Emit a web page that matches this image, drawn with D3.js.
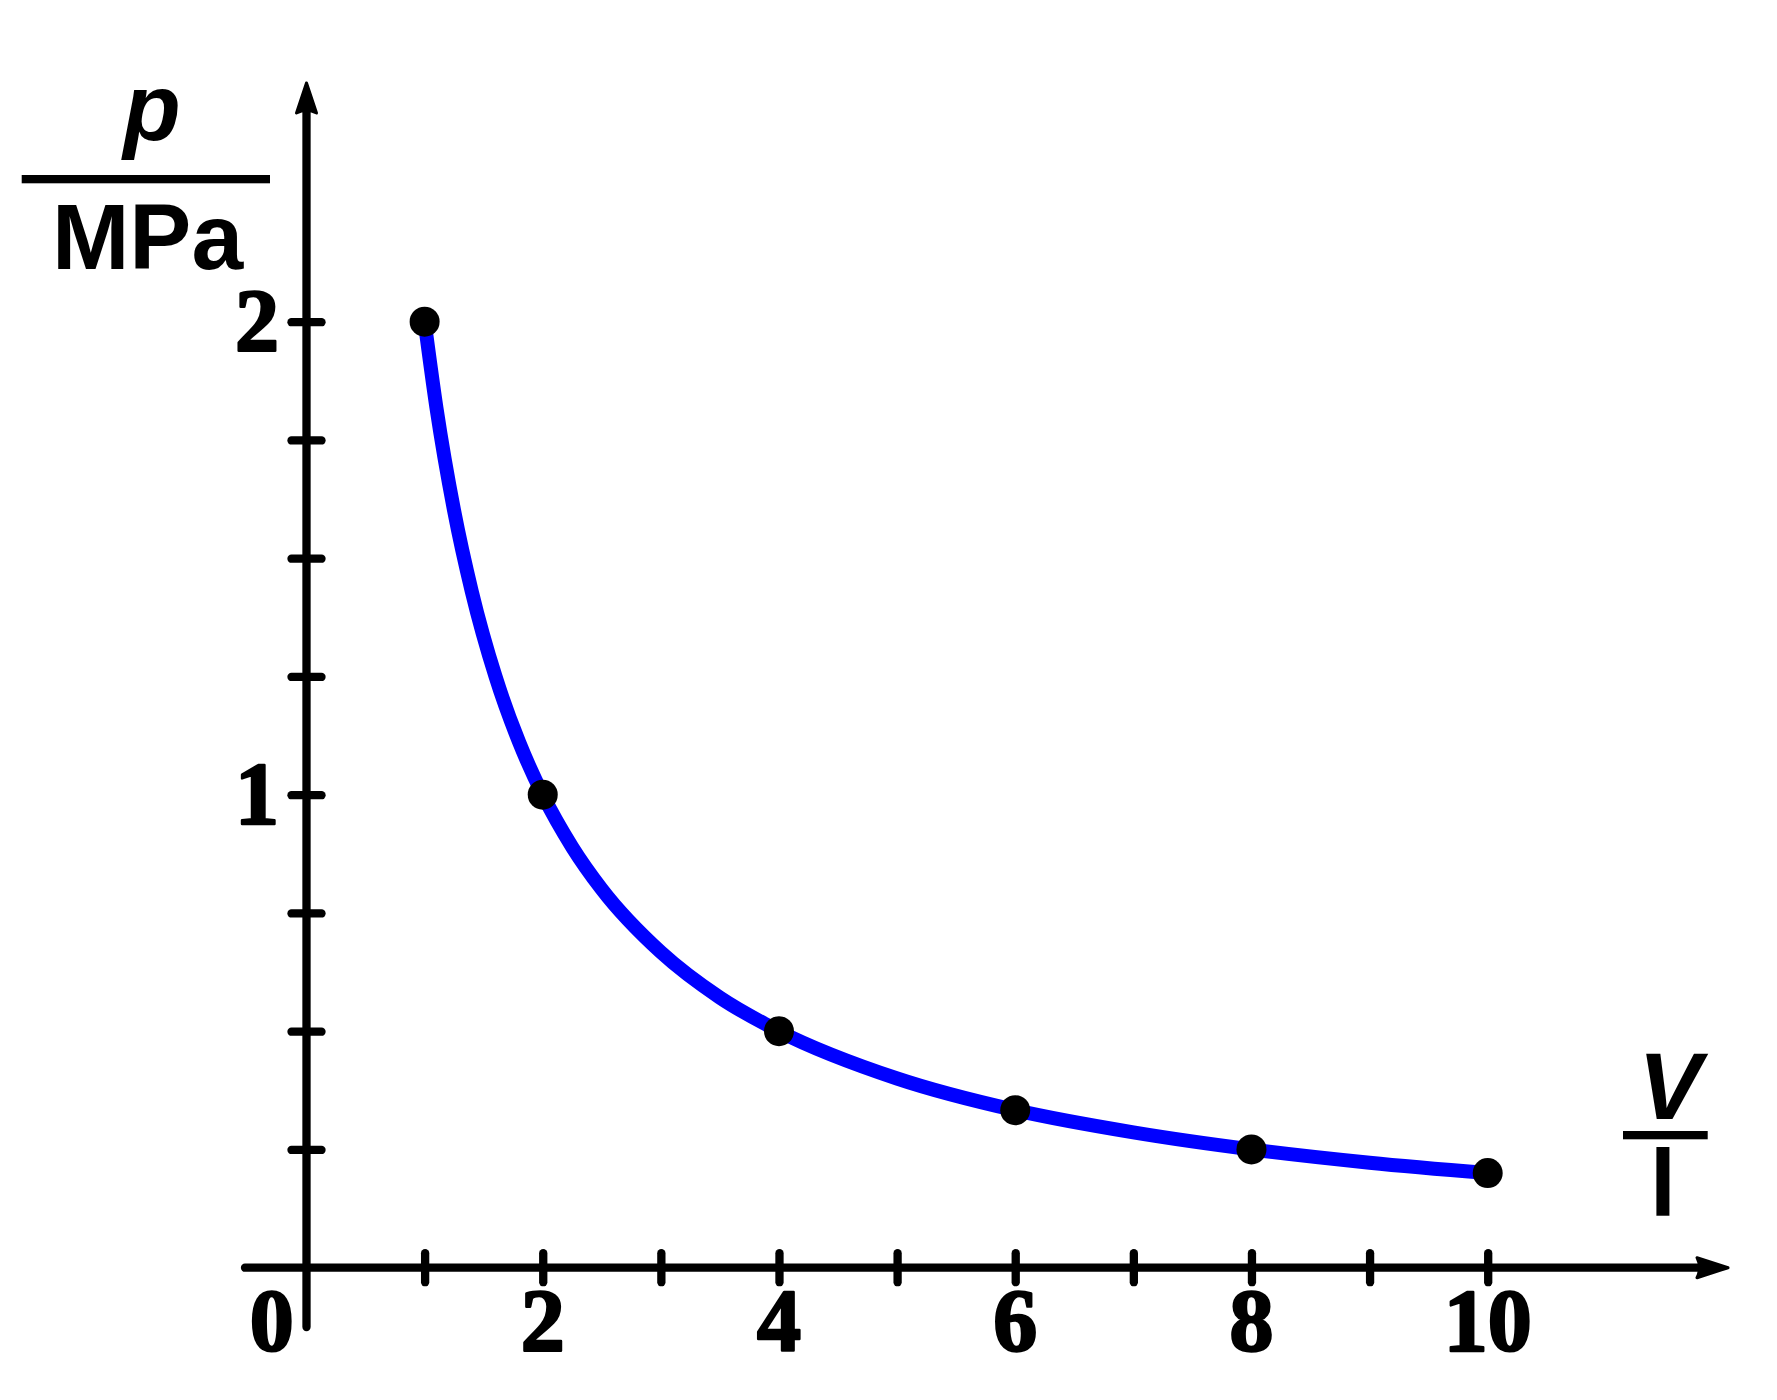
<!DOCTYPE html>
<html>
<head>
<meta charset="utf-8">
<script src="https://cdn.jsdelivr.net/npm/d3@7"></script>
<style>
  html, body { margin: 0; padding: 0; background: #fff; }
  svg { display: block; }
</style>
</head>
<body>
<svg id="chart" width="1777" height="1400"></svg>
<script>
// Data
const pointV = [1, 2, 4, 6, 8, 10];
const pointP = [2, 1, 0.5, 0.333, 0.25, 0.2];
const curveV = [1, 1.1, 1.25, 1.4, 1.6, 1.8, 2, 2.25, 2.5, 3, 3.5, 4, 5, 6, 7, 8, 9, 10];
const curveP = [2, 1.818, 1.6, 1.429, 1.25, 1.111, 1, 0.889, 0.8, 0.667, 0.571, 0.5, 0.4, 0.333, 0.286, 0.25, 0.222, 0.2];
const xTicks = [1, 2, 3, 4, 5, 6, 7, 8, 9, 10];
const xTickLabels = [2, 4, 6, 8, 10];
const yTicks = [0.25, 0.5, 0.75, 1, 1.25, 1.5, 1.75, 2];
const yTickLabels = [1, 2];

const svg = d3.select("#chart");
const x = d3.scaleLinear().domain([0, 10]).range([306.5, 1487.7]);
const y = d3.scaleLinear().domain([0, 2]).range([1267.7, 321.7]);

const digitFont = "'Liberation Serif', serif";
const sansFont = "'Liberation Sans', Arial, sans-serif";
const axisW = 8.3;

// Curve
const line = d3.line().x((d, i) => x(curveV[i])).y((d, i) => y(curveP[i])).curve(d3.curveMonotoneX);
svg.append("path")
  .datum(curveV)
  .attr("d", line)
  .attr("fill", "none")
  .attr("stroke", "#0000ff")
  .attr("stroke-width", 14)
  .attr("stroke-linejoin", "round");

// X axis
const xAxis = d3.axisBottom(x).tickValues(xTicks).tickSize(0).tickFormat("");
const gx = svg.append("g").attr("transform", `translate(0,${y(0)})`).call(xAxis);
gx.select(".domain").remove();
gx.selectAll(".tick line")
  .attr("y1", -14.5).attr("y2", 14.5)
  .attr("stroke", "#000").attr("stroke-width", axisW).attr("stroke-linecap", "round");

// Y axis
const yAxis = d3.axisLeft(y).tickValues(yTicks).tickSize(0).tickFormat("");
const gy = svg.append("g").attr("transform", `translate(${x(0)},0)`).call(yAxis);
gy.select(".domain").remove();
gy.selectAll(".tick line")
  .attr("x1", -15).attr("x2", 15)
  .attr("stroke", "#000").attr("stroke-width", axisW).attr("stroke-linecap", "round");

// Axis lines
svg.append("line")
  .attr("x1", 245).attr("x2", 1705).attr("y1", y(0)).attr("y2", y(0))
  .attr("stroke", "#000").attr("stroke-width", axisW).attr("stroke-linecap", "round");
svg.append("line")
  .attr("x1", x(0)).attr("x2", x(0)).attr("y1", 1327).attr("y2", 105)
  .attr("stroke", "#000").attr("stroke-width", axisW).attr("stroke-linecap", "round");

// Arrowheads
const ay = y(0);
svg.append("path")
  .attr("d", `M1728,${ay} L1697,${ay - 10} Q1702,${ay} 1697,${ay + 10} Z`)
  .attr("fill", "#000").attr("stroke", "#000").attr("stroke-width", 3).attr("stroke-linejoin", "round");
const ax = x(0);
svg.append("path")
  .attr("d", `M${ax},83 L${ax - 10},113 Q${ax},108 ${ax + 10},113 Z`)
  .attr("fill", "#000").attr("stroke", "#000").attr("stroke-width", 3).attr("stroke-linejoin", "round");

// Points
svg.append("g").selectAll("circle")
  .data(pointV)
  .join("circle")
  .attr("cx", (d) => x(d))
  .attr("cy", (d, i) => y(pointP[i]))
  .attr("r", 15)
  .attr("fill", "#000");

// Tick labels
function digitStyle(sel) {
  sel.attr("font-family", digitFont)
    .attr("font-weight", "bold")
    .attr("font-size", 88)
    .attr("fill", "#000")
    .attr("stroke", "#000")
    .attr("stroke-width", 2.5)
    .attr("stroke-linejoin", "round");
}

svg.append("g").selectAll("text")
  .data(xTickLabels)
  .join("text")
  .attr("x", (d) => x(d))
  .attr("y", 1350)
  .attr("text-anchor", "middle")
  .call(digitStyle)
  .text((d) => d);

svg.append("text")
  .attr("x", 271.7).attr("y", 1350)
  .attr("text-anchor", "middle")
  .call(digitStyle)
  .text("0");

svg.append("g").selectAll("text")
  .data(yTickLabels)
  .join("text")
  .attr("x", 279)
  .attr("y", (d) => y(d) + 28)
  .attr("text-anchor", "end")
  .call(digitStyle)
  .text((d) => d);

// Y axis label p / MPa
svg.append("text")
  .attr("x", 152).attr("y", 140)
  .attr("text-anchor", "middle")
  .attr("font-family", sansFont).attr("font-weight", "bold").attr("font-style", "italic").attr("font-size", 94)
  .text("p");
svg.append("rect")
  .attr("x", 21.7).attr("y", 175).attr("width", 248.3).attr("height", 8.3)
  .attr("fill", "#000");
svg.append("text")
  .attr("x", 147.5).attr("y", 269)
  .attr("text-anchor", "middle")
  .attr("font-family", sansFont).attr("font-weight", "bold").attr("font-size", 93)
  .text("MPa");

// X axis label V / l
svg.append("text")
  .attr("x", 1670).attr("y", 1119)
  .attr("text-anchor", "middle")
  .attr("font-family", sansFont).attr("font-weight", "bold").attr("font-style", "italic").attr("font-size", 95)
  .text("V");
svg.append("rect")
  .attr("x", 1623).attr("y", 1131).attr("width", 84.7).attr("height", 8.3)
  .attr("fill", "#000");
svg.append("text")
  .attr("x", 1663).attr("y", 1216)
  .attr("text-anchor", "middle")
  .attr("font-family", sansFont).attr("font-weight", "bold").attr("font-size", 95)
  .text("l");
</script>
</body>
</html>
